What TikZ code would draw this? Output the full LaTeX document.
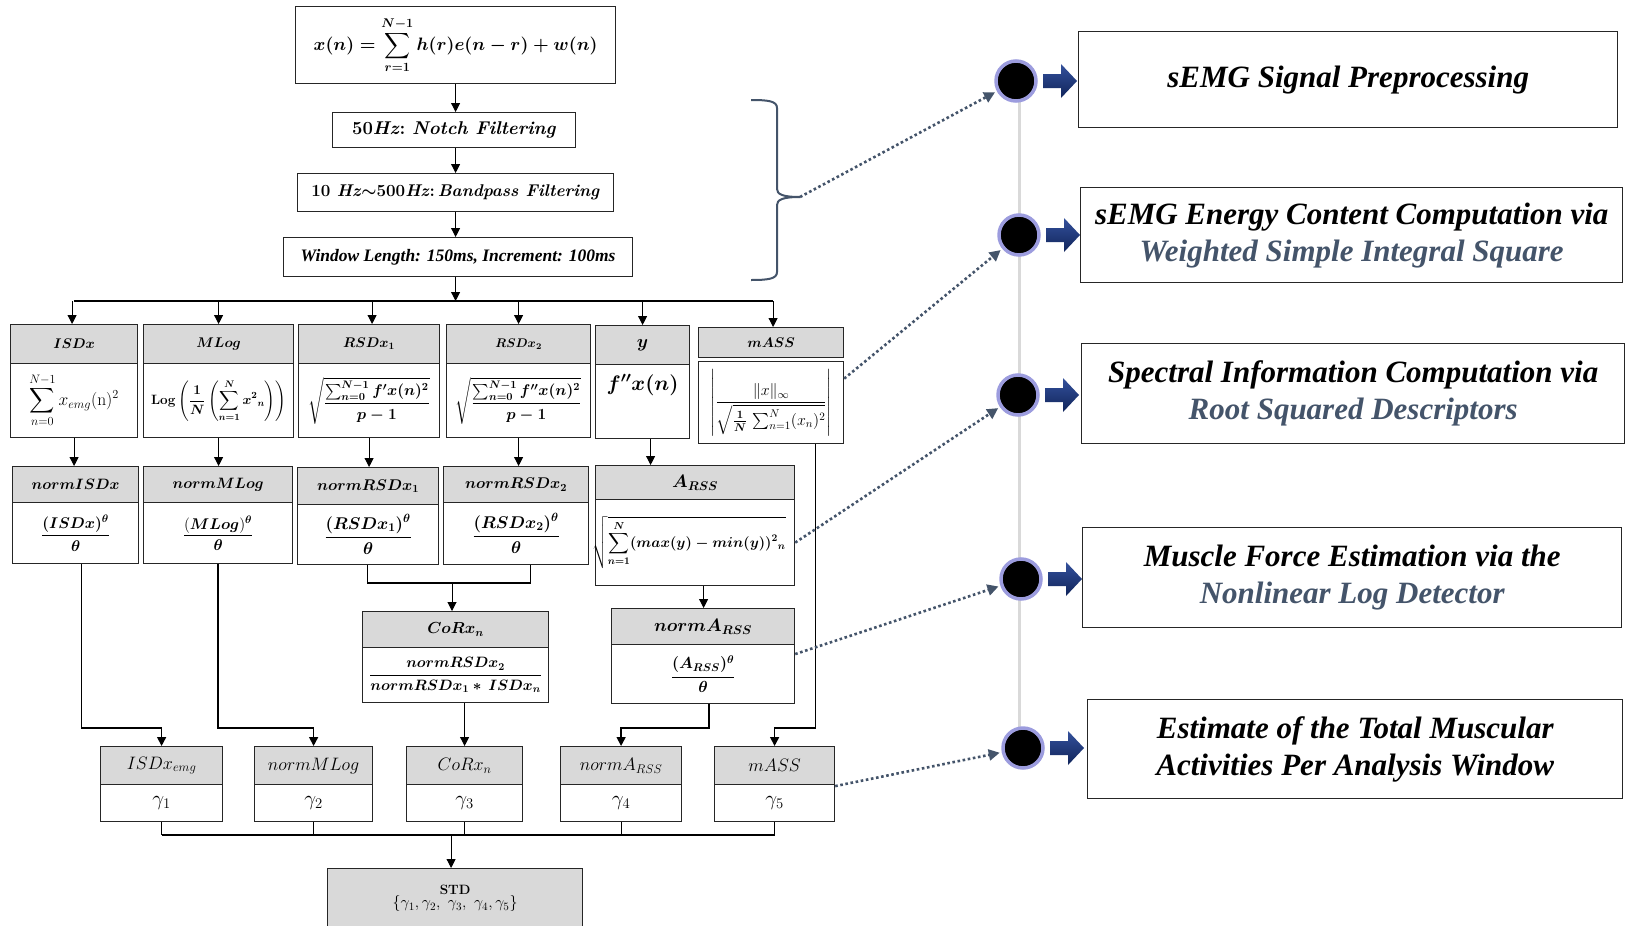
\RequirePackage{fix-cm}
\documentclass[tikz,border=0pt]{standalone}
\usepackage{amsmath,amssymb,bm}
\usepackage{fontspec}
\newfontfamily\tnr{Liberation Serif}
\usetikzlibrary{arrows.meta,backgrounds}
\definecolor{hdrgray}{HTML}{D9D9D9}
\definecolor{slate}{HTML}{44546A}
\definecolor{lav}{HTML}{9C9CDE}
\definecolor{navyA}{HTML}{34519C}
\definecolor{navyB}{HTML}{10245A}
\definecolor{lgray}{HTML}{D9D9D9}
\newcommand{\fsz}[2]{\fontsize{#1pt}{#2pt}\selectfont}
\newcommand{\hdtxt}[2]{{\fsz{#1}{#1}\boldmath$#2$}}
\newcommand{\twobox}[8]{%
  \node[hdr, minimum width={(#3-#2)*1pt}, minimum height={(#5-#4)*1pt}, anchor=north west] (#1h) at (#2,#4) {\makebox[0pt]{#7}};
  \node[bdy, minimum width={(#3-#2)*1pt}, minimum height={(#6-#5)*1pt}, anchor=north west] (#1b) at (#2,#5) {\makebox[0pt]{#8}};}
\newcommand{\blockarrow}[2]{%
  \shade[top color=navyA, bottom color=navyB] (#1+27,#2-7) -- (#1+45,#2-7) -- (#1+45,#2-17) -- (#1+61,#2) -- (#1+45,#2+17) -- (#1+45,#2+7) -- (#1+27,#2+7) -- cycle;}
\tikzset{
  bx/.style={draw=black!85, line width=1.2pt, inner sep=1pt},
  hdr/.style={bx, fill=hdrgray},
  bdy/.style={bx, fill=white},
  arr/.style={-{Triangle[length=9pt,width=9pt]}, line width=1pt},
  linkarr/.style={-{Triangle[length=9pt,width=9pt]}, line width=1.6pt},
  busline/.style={line width=2.2pt},
  dotarr/.style={draw=slate, line width=2.6pt, dash pattern=on 2.6pt off 2.6pt, -{Triangle[length=11pt,width=11pt]}, shorten >=2pt},
  rbox/.style={draw=black!85, line width=1.4pt, align=center, fill=white, font=\tnr\bfseries\itshape\fsz{31}{37}},
  blackdot/.style={circle, fill=black, draw=lav, line width=3.5pt, minimum size=40pt, inner sep=0pt}}
\begin{document}
\begin{tikzpicture}[x=1pt,y=-1pt]
\useasboundingbox (0,0) rectangle (1625,926);
% ---------- top chain ----------
\node[bdy, minimum width=320pt, minimum height=77pt, anchor=north west] (f0) at (295,6) {{\fsz{18}{21}\boldmath$\displaystyle x(n)=\sum_{r=1}^{N-1} h(r)e(n-r)+w(n)$}};
\node[bdy, minimum width=243pt, minimum height=35pt, anchor=north west] (f1) at (332,112) {\fsz{18.5}{20}\textbf{50}\textbf{\itshape Hz}\textbf{:\ }\textbf{\itshape Notch Filtering}};
\node[bdy, minimum width=316pt, minimum height=38pt, anchor=north west] (f2) at (297,173) {\fsz{17}{19}\textbf{10 }\textbf{\itshape Hz}{\boldmath$\sim$}\textbf{500}\textbf{\itshape Hz}\textbf{:\,}\textbf{\itshape Bandpass Filtering}};
\node[bdy, minimum width=349pt, minimum height=39pt, anchor=north west] (win) at (283,237) {\tnr\bfseries\itshape\fsz{17.5}{19}Window Length: 150ms, Increment: 100ms};
\draw[arr] (f0.south) -- (f0.south |- f1.north);
\draw[arr] (f0.south |- f1.south) -- (f0.south |- f2.north);
\draw[arr] (f0.south |- f2.south) -- (f0.south |- win.north);
% ---------- feature row ----------
\twobox{isdx}{10}{137}{324}{363}{437}{\hdtxt{14}{ISDx}}{\fsz{17.5}{19}$\displaystyle\sum_{n=0}^{N-1} x_{emg}(\mathrm{n})^2$}
\twobox{mlog}{143}{293}{324}{363}{437}{\hdtxt{14}{MLog}}{\fsz{13.5}{15}\boldmath$\displaystyle \mathbf{Log}\left(\frac{1}{N}\left(\sum_{n=1}^{N} {x^2}_n\right)\right)$}
\twobox{rsda}{298}{439}{324}{363}{437}{\hdtxt{14}{RSDx_1}}{\fsz{15.5}{17}\boldmath$\sqrt{\dfrac{\sum_{n=0}^{N-1} f'x(n)^2}{p-1}}$}
\twobox{rsdb}{446}{590}{324}{363}{437}{\hdtxt{12.5}{RSDx_2}}{\fsz{15.5}{17}\boldmath$\sqrt{\dfrac{\sum_{n=0}^{N-1} f''x(n)^2}{p-1}}$}
\twobox{yy}{595}{689}{325}{364}{438}{\hdtxt{18}{y}}{\raisebox{11pt}[0pt][0pt]{\fsz{21}{22}\boldmath$f''x(n)$}}
\node[hdr, minimum width=145pt, minimum height=30pt, anchor=north west] (massh) at (698,327) {\hdtxt{14}{mASS}};
\node[bdy, minimum width=145pt, minimum height=82pt, anchor=north west] (massb) at (698,361) {{\fsz{16}{18}$\left|\dfrac{\|x\|_\infty}{\sqrt{\boldsymbol{\frac{1}{N}}\,\sum_{n=1}^{N}(x_n)^2}}\right|$}};
\coordinate (busT) at (0,301);
\draw[arr] (f0.south |- win.south) -- (f0.south |- busT);
\draw[busline] (isdxh.north |- busT) -- ([xshift=2pt]massh.north |- busT);
\foreach \n/\dx in {isdxh/-2,mlogh/0,rsdah/3,rsdbh/0,yyh/0,massh/2}
  \draw[arr] ([xshift=\dx pt]\n.north |- busT) -- ([xshift=\dx pt]\n.north);
% ---------- normalisation row ----------
\twobox{nisdx}{12}{138}{466}{502}{563}{\hdtxt{15}{normISDx}}{\fsz{15.5}{18}\boldmath$\dfrac{(ISDx)^\theta}{\theta}$}
\twobox{nmlog}{143}{292}{466}{502}{563}{\hdtxt{15}{normMLog}}{\fsz{15.5}{18}$\dfrac{(\boldsymbol{MLog})^{\boldsymbol\theta}}{\boldsymbol\theta}$}
\twobox{nrsda}{297}{438}{467}{504}{564}{\hdtxt{15.5}{normRSDx_1}}{\fsz{17}{18}\boldmath$\dfrac{(RSDx_1)^\theta}{\theta}$}
\twobox{nrsdb}{443}{588}{466}{502}{564}{\hdtxt{15.5}{normRSDx_2}}{\fsz{17}{18}\boldmath$\dfrac{(RSDx_2)^\theta}{\theta}$}
\twobox{arss}{595}{794}{465}{499}{585}{\hdtxt{18}{A_{RSS}}}{\hspace*{-12pt}\fsz{14.5}{16}\boldmath$\sqrt{\displaystyle\sum_{n=1}^{N}(max(y)-min(y))^2{}_n}$}
\draw[arr] (isdxb.south) -- (isdxb.south |- nisdxh.north);
\draw[arr] (mlogb.south) -- (mlogb.south |- nmlogh.north);
\draw[arr] (rsdab.south) -- (rsdab.south |- nrsdah.north);
\draw[arr] (rsdbb.south) -- (rsdbb.south |- nrsdbh.north);
\draw[arr] ([xshift=8pt]yyb.south) -- ([xshift=8pt]yyb.south |- arssh.north);
% ---------- third row ----------
\twobox{corx}{362}{548}{611}{647}{702}{\hdtxt{16}{CoRx_n}}{\fsz{15}{17}\boldmath$\dfrac{normRSDx_2}{normRSDx_1*\,ISDx_n}$}
\twobox{narss}{611}{794}{608}{644}{703}{\hdtxt{18}{normA_{RSS}}}{\fsz{16}{18}\boldmath$\dfrac{(A_{RSS})^\theta}{\theta}$}
\coordinate (brk) at (452,583);
\draw[line width=1.2pt] ([xshift=-1pt]nrsdab.south) |- (brk) -| ([xshift=14pt]nrsdbb.south);
\draw[arr] (brk) -- (brk |- corxh.north);
\draw[arr] ([xshift=8.5pt]arssb.south) -- ([xshift=8.5pt]arssb.south |- narssh.north);
% ---------- output row ----------
\twobox{ga}{100}{222}{746}{784}{821}{{\fsz{18}{20}$ISDx_{emg}$}}{{\fsz{21}{22}$\gamma_1$}}
\twobox{gb}{254}{372}{746}{784}{821}{{\fsz{18}{20}$normMLog$}}{{\fsz{21}{22}$\gamma_2$}}
\twobox{gc}{406}{522}{746}{784}{821}{{\fsz{18}{20}$CoRx_n$}}{{\fsz{21}{22}$\gamma_3$}}
\twobox{gd}{560}{681}{746}{784}{821}{{\fsz{18}{20}$normA_{RSS}$}}{{\fsz{21}{22}$\gamma_4$}}
\twobox{ge}{714}{834}{746}{784}{821}{{\fsz{18}{20}$mASS$}}{{\fsz{21}{22}$\gamma_5$}}
\coordinate (hy) at (0,728);
\draw[linkarr] ([xshift=6pt]nisdxb.south) -- ([xshift=6pt]nisdxb.south |- hy) -| (gah.north);
\draw[linkarr] (nmlogb.south) -- (nmlogb.south |- hy) -| (gbh.north);
\draw[arr] (gch.north |- corxb.south) -- (gch.north);
\draw[linkarr] ([xshift=6pt]narssb.south) -- ([xshift=6pt]narssb.south |- hy) -| (gdh.north);
\draw[linkarr] ([xshift=44.5pt]massb.south) -- ([xshift=44.5pt]massb.south |- hy) -| (geh.north);
\node[hdr, minimum width=255pt, minimum height=60pt, anchor=north west, align=center] (std) at (327,868) {\fsz{13.5}{20}\textbf{STD}\\ \fsz{16}{17}$\{\gamma_1,\gamma_2,\ \gamma_3,\ \gamma_4,\gamma_5\}$};
\coordinate (hb) at (0,835);
\draw[busline] (gab.south |- hb) -- (geb.south |- hb);
\foreach \n in {gab,gbb,gcb,gdb,geb} \draw[line width=1pt] (\n.south) -- (\n.south |- hb);
\draw[arr] ([xshift=-4pt]std.north |- hb) -- ([xshift=-4pt]std.north);
% ---------- brace ----------
\coordinate (brtip) at (800,197);
\draw[slate, line width=2pt] (751,100) .. controls (768,100) and (777,101) .. (777,108) -- (777,189) .. controls (777,194) and (782,197) .. (brtip) .. controls (782,197) and (777,200) .. (777,205) -- (777,272) .. controls (777,279) and (768,280) .. (751,280);
% ---------- right timeline ----------
\begin{scope}[on background layer]
  \draw[lgray, line width=3pt] (1019,81) -- (1019,748);
\end{scope}
\node[blackdot] (c1) at (1016,81) {};
\node[blackdot] (c2) at (1019,235) {};
\node[blackdot] (c3) at (1018,395) {};
\node[blackdot] (c4) at (1021,579) {};
\node[blackdot] (c5) at (1023,748) {};
\blockarrow{1016}{81}
\blockarrow{1019}{235}
\blockarrow{1018}{395}
\blockarrow{1021}{579}
\blockarrow{1023}{748}
\node[rbox, minimum width=539pt, minimum height=96pt, anchor=north west] (r1) at (1078,31) {sEMG Signal Preprocessing};
\node[rbox, minimum width=542pt, minimum height=95pt, anchor=north west] (r2) at (1080,187) {sEMG Energy Content Computation via\\ {\color{slate}Weighted Simple Integral Square}};
\node[rbox, minimum width=543pt, minimum height=100pt, anchor=north west] (r3) at (1081,343) {Spectral Information Computation via\\ {\color{slate}Root Squared Descriptors}};
\node[rbox, minimum width=539pt, minimum height=100pt, anchor=north west] (r4) at (1082,527) {Muscle Force Estimation via the\\ {\color{slate}Nonlinear Log Detector}};
\node[rbox, minimum width=535pt, minimum height=99pt, anchor=north west] (r5) at (1087,699) {Estimate of the Total Muscular\\ Activities Per Analysis Window};
% ---------- dotted pointers ----------
\draw[dotarr] (brtip) -- (c1);
\draw[dotarr] ([yshift=24pt]massb.east) -- (c2);
\draw[dotarr] (arssb.east) -- (c3);
\draw[dotarr] ([yshift=20pt]narssb.east) -- (c4);
\draw[dotarr] ([yshift=17pt]geb.east) -- (c5);
\end{tikzpicture}
\end{document}
